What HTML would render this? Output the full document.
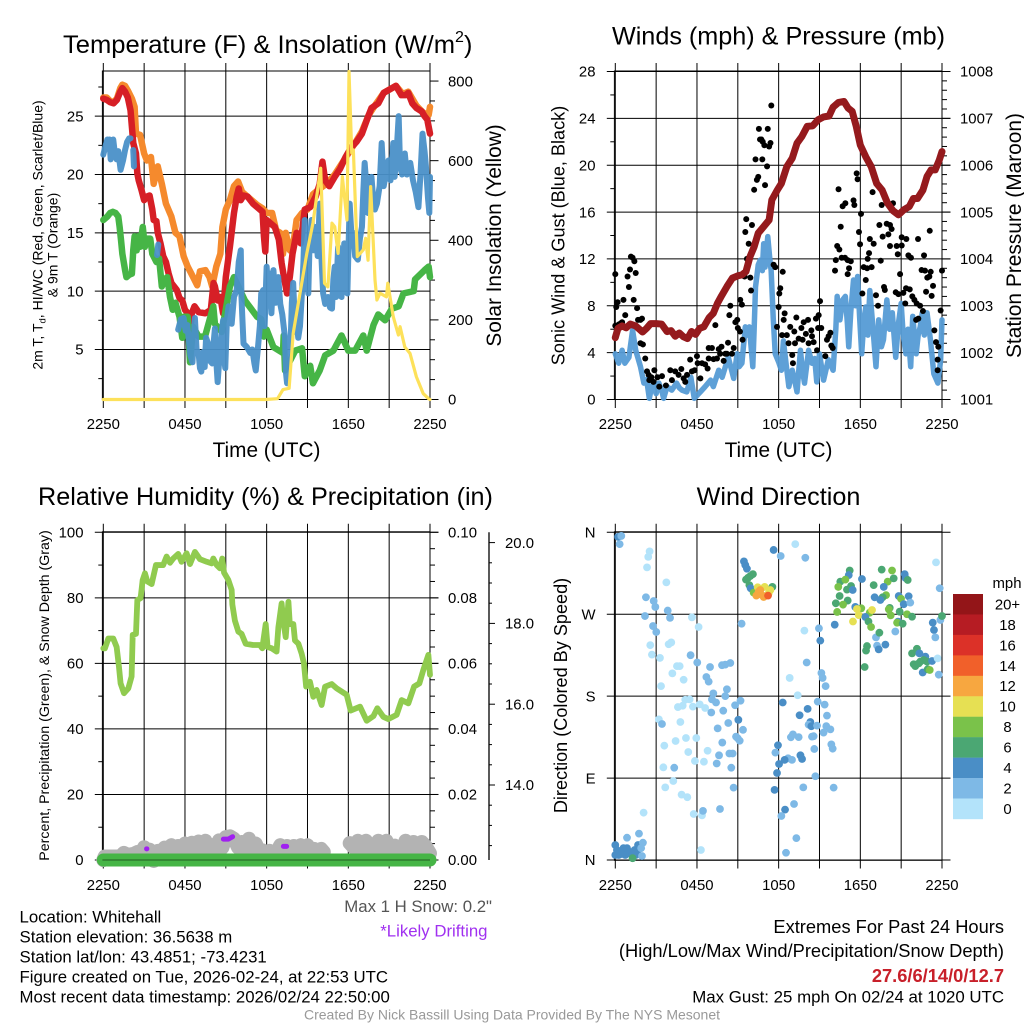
<!DOCTYPE html>
<html lang="en">
<head>
<meta charset="utf-8">
<title>NYS Mesonet Whitehall Meteogram</title>
<style>
html,body{margin:0;padding:0;background:#fff;}
svg{display:block;font-family:"Liberation Sans",sans-serif;}
text{fill:#000;}
</style>
</head>
<body>
<svg id="chart" xmlns="http://www.w3.org/2000/svg" width="1024" height="1024" viewBox="0 0 1024 1024">
<rect x="0" y="0" width="1024" height="1024" fill="#fff"/>
<g id="p1"></g>
<g id="p2"></g>
<g id="p3"></g>
<g id="p4"></g>

<text x="63" y="53" font-size="25.2" textLength="392" lengthAdjust="spacingAndGlyphs">Temperature (F) &amp; Insolation (W/m</text>
<text x="455" y="42" font-size="16">2</text>
<text x="464" y="53" font-size="25.2">)</text>
<text x="778.5" y="44.5" font-size="25.2" text-anchor="middle">Winds (mph) &amp; Pressure (mb)</text>
<text x="265.5" y="505" font-size="25.2" text-anchor="middle">Relative Humidity (%) &amp; Precipitation (in)</text>
<text x="778.5" y="505" font-size="25.2" text-anchor="middle">Wind Direction</text>

<text x="266.5" y="457" font-size="20.8" text-anchor="middle">Time (UTC)</text>
<text x="778.5" y="457" font-size="20.8" text-anchor="middle">Time (UTC)</text>

<text transform="translate(42.5,235) rotate(-90)" font-size="14" text-anchor="middle">2m T, T<tspan font-size="9.5" dy="3">d</tspan><tspan dy="-3">, HI/WC (Red, Green, Scarlet/Blue)</tspan></text>
<text transform="translate(57.5,245) rotate(-90)" font-size="14" text-anchor="middle">&amp; 9m T (Orange)</text>
<text transform="translate(501,235.5) rotate(-90)" font-size="20.8" text-anchor="middle">Solar Insolation (Yellow)</text>
<text transform="translate(564.5,235.5) rotate(-90)" font-size="18.1" text-anchor="middle">Sonic Wind &amp; Gust (Blue, Black)</text>
<text transform="translate(1021,235.5) rotate(-90)" font-size="20.9" text-anchor="middle">Station Pressure (Maroon)</text>
<text transform="translate(49,695.5) rotate(-90)" font-size="14.2" text-anchor="middle">Percent, Precipitation (Green), &amp; Snow Depth (Gray)</text>
<text transform="translate(567,695.5) rotate(-90)" font-size="18.1" text-anchor="middle">Direction (Colored By Speed)</text>

<g id="legend">
<text x="1007" y="588" font-size="14.9" text-anchor="middle">mph</text>
</g>

<g font-size="16.8">
<text x="19.5" y="922.5">Location: Whitehall</text>
<text x="19.5" y="942.5">Station elevation: 36.5638 m</text>
<text x="19.5" y="962.5">Station lat/lon: 43.4851; -73.4231</text>
<text x="19.5" y="982.5">Figure created on Tue, 2026-02-24, at 22:53 UTC</text>
<text x="19.5" y="1002.5">Most recent data timestamp: 2026/02/24 22:50:00</text>
</g>
<text x="492" y="912" font-size="16.8" text-anchor="end" style="fill:#555">Max 1 H Snow: 0.2"</text>
<text x="487.5" y="936.5" font-size="16.8" text-anchor="end" style="fill:#a030f0">*Likely Drifting</text>
<g text-anchor="end">
<text x="1004" y="933" font-size="18.3">Extremes For Past 24 Hours</text>
<text x="1004" y="957" font-size="18.3">(High/Low/Max Wind/Precipitation/Snow Depth)</text>
<text x="1004" y="982" font-size="18.3" font-weight="bold" style="fill:#c8202a">27.6/6/14/0/12.7</text>
<text x="1004" y="1002.5" font-size="16.85">Max Gust: 25 mph On 02/24 at 1020 UTC</text>
</g>
<text x="512" y="1019.5" font-size="14" text-anchor="middle" style="fill:#999">Created By Nick Bassill Using Data Provided By The NYS Mesonet</text>
</svg>

<script>
// ---------- shared axis data ----------
var timeGridHours = [0,3,6,9,12,15,18,21,24];
var timeLabels = ['2250','','0450','','1050','','1650','','2250'];

var tempTicks = [5,10,15,20,25];
var tempMinorTicks = [2.5,7.5,12.5,17.5,22.5,27.5];
var solarTicks = [0,200,400,600,800];
var solarMinorTicks = [50,100,150,250,300,350,450,500,550,650,700,750];
var windTicks = [0,4,8,12,16,20,24,28];
var windMinorTicks = [2,6,10,14,18,22,26];
var pressTicks = [1001,1002,1003,1004,1005,1006,1007,1008];
var pressMinorTicks = [1001.2,1001.4,1001.6,1001.8,1002.2,1002.4,1002.6,1002.8,1003.2,1003.4,1003.6,1003.8,1004.2,1004.4,1004.6,1004.8,1005.2,1005.4,1005.6,1005.8,1006.2,1006.4,1006.6,1006.8,1007.2,1007.4,1007.6,1007.8];
var rhTicks = [0,20,40,60,80,100];
var rhMinorTicks = [10,30,50,70,90];
var precipTicks = [0,0.02,0.04,0.06,0.08,0.10];
var precipMinorTicks = [0.005,0.01,0.015,0.025,0.03,0.035,0.045,0.05,0.055,0.065,0.07,0.075,0.085,0.09,0.095];
var snowTicks = [14,16,18,20];
var snowMinorTicks = [12.5,13,13.5,14.5,15,15.5,16.5,17,17.5,18.5,19,19.5];
var dirTicks = [0,90,180,270,360];
var dirTickLabels = ['N','E','S','W','N'];

// ---------- temperature panel data (hours since 2250 UTC, deg F) ----------
var tempHours = [0,.25,.5,.75,1,1.25,1.4,1.6,1.8,2,2.1,2.2,2.4,2.5,2.6,2.8,3,3.2,3.4,3.6,3.7,3.9,4,4.2,4.4,4.6,4.8,5,5.2,5.4,5.6,5.8,6,6.2,6.4,6.5,6.7,7,7.5,7.9,8.1,8.2,8.4,8.6,8.8,9,9.3,9.6,9.8,9.95,10.1,10.3,10.6,11,11.4,11.7,11.8,11.9,12,12.3,12.6,12.9,13.1,13.3,13.5,13.7,13.9,14.2,14.5,14.8,15.2,15.6,15.9,16.1,16.3,16.6,17,17.4,17.8,18,18.2,18.6,19,19.4,19.7,20.2,20.6,21.2,21.5,21.9,22.2,22.4,22.7,23,23.4,23.6,23.8,24];
var tempValues = [26.5,26.4,26.2,26.1,26.4,27.1,27.4,27.1,26.6,25.5,24.1,22.7,21.8,20.1,19.5,18.7,17.8,18.1,18.2,17,16.1,16,15,14.1,13,12.5,11.5,10.7,10.4,10.1,9.4,9.2,8.4,8.1,6.7,8.1,8.7,8.2,8.1,8.4,10.7,10.4,9.2,9.5,8.1,11.2,13.8,16.7,18.1,18.8,17.8,18.2,18.1,17.5,17.1,16.8,14.7,13.4,16.1,15.8,15.5,14.4,12.4,11,9.8,11.2,13.2,15,14.1,17,17.2,18.1,19.2,21.1,19.5,19,19.8,20.5,21.5,21.9,22.3,22.8,23.5,24.8,25.7,26.1,27,27.4,27.6,26.8,26.8,27,26.1,25.7,25.4,25,24.7,23.5];

var temp9mHours = [0,.25,.5,.75,1,1.25,1.4,1.6,1.8,2.1,2.3,2.4,2.7,3,3.2,3.5,3.7,4,4.3,4.6,5,5.3,5.6,5.9,6.2,6.6,6.9,7.1,7.5,7.8,8,8.3,8.6,8.75,9,9.3,9.6,9.9,10.2,10.7,11.3,11.7,12,12.4,12.7,13,13.2,13.4,13.7,14,14.2,14.6,15,15.4,15.8,16.4,17,18,18.6,19,19.5,20,20.6,21.5,22,22.4,23,23.5,23.9,24];
var temp9mValues = [26.6,26.6,26.3,26.2,26.5,27.4,27.7,27.6,27.2,26.5,25.8,23.5,23.4,21.8,21.2,21.5,19.2,20.7,19.2,17.5,16.4,15,14.7,13,12.1,11.2,10.5,11.7,11.8,11.2,10.4,12.1,13.2,15.5,17,17.8,19,19.4,18.5,18,17.4,17.1,16.7,16.7,15.2,15,13.2,15,13.5,14.4,16.1,16.7,17,18.3,18.7,19.2,20,21.8,22.9,23.7,25.1,26,27,27.6,26.9,27.1,25.9,25.3,25.1,25.8];

var dewHours = [0,.3,.5,.7,.9,1.1,1.2,1.3,1.4,1.6,1.7,1.9,2.1,2.2,2.3,2.45,2.55,2.7,2.9,3.05,3.2,3.45,3.6,3.9,4.1,4.3,4.5,4.7,4.9,5.1,5.3,5.6,5.8,5.9,6.2,6.37,6.6,7,7.47,8.08,8.2,8.7,9.3,9.6,10.4,11.3,11.6,11.8,12,12.5,13.2,13.25,13.35,14.1,14.6,14.8,15.2,15.4,15.9,16.3,16.9,17.5,18,18.5,19.1,19.35,19.85,20.2,20.7,21.2,21.7,22.05,22.8,22.9,23.6,23.9,24];
var dewValues = [16.1,16.4,16.7,16.8,16.7,16.4,15.5,14.4,13.2,11.8,11.2,11.4,11.5,13.5,14.7,13.5,14.7,13.8,15.5,13.8,14.5,14.5,13.2,12.5,12.8,10.4,11,11.2,9.5,8.4,9,7.8,6,7.8,7.8,3.9,6.95,6.1,6.1,8.7,7.2,6.5,10.4,11.2,9.2,7.8,7.6,6.1,6.7,5.2,4.7,6.2,3.2,4.9,5.1,2.7,3.6,2.1,3.2,4.5,4.9,6.2,4.9,4.9,6.2,4.9,7.1,8,7.5,8.5,8.7,9.8,10,11,11.8,12.1,11.2];

var chillHours = [0,.15,.3,.37,.45,.54,.63,.73,.85,.98,1.1,1.27,1.45,1.6,1.75,1.9,2,null,2.2,2.25,null,3.95,4.04,null,
5.5,5.7,5.9,6.05,6.17,6.4,6.55,6.73,6.85,7,7.1,7.2,7.35,7.45,7.55,7.7,7.85,8,8.1,8.2,8.3,8.4,8.5,8.6,8.7,8.8,8.9,8.96,9.08,9.2,9.35,9.43,9.6,9.8,9.95,10.1,10.15,10.2,10.3,10.55,10.8,10.95,11.1,11.2,11.35,11.5,11.6,11.75,11.85,12,12.1,12.25,12.35,12.5,12.65,12.85,13,13.15,13.35,13.42,13.5,13.62,13.75,13.85,13.95,14.1,14.2,14.32,14.45,14.6,14.7,14.8,14.92,15.06,15.15,15.3,15.42,15.6,15.75,15.9,16.02,16.15,16.3,16.5,16.65,16.8,16.9,17,17.1,17.25,17.38,17.5,17.6,17.7,17.82,17.93,18.02,18.1,18.22,18.37,18.5,18.7,18.85,19,19.1,19.2,19.33,19.45,19.58,19.7,19.82,19.95,20.1,20.3,20.45,20.52,20.6,20.75,20.95,21.1,21.3,21.4,21.55,21.7,21.8,21.95,22.15,22.3,22.55,22.75,22.95,23.15,23.3,23.45,23.6,23.7,23.85,23.95,24];
var chillValues = [21.7,22.4,23,22.5,23,21.3,22.8,23,21.8,21.3,22,20.4,21.2,22.1,22.8,23.1,23.1,null,22.1,20.7,null,13.1,14,null,
6.7,7.6,7.7,6.6,7.1,4.5,3.9,7.7,5,4.7,3.4,3.1,4.8,3.5,6,5.5,4,3.8,5.5,6.8,4,2.2,3.8,4.9,6.5,7.5,4,3.4,7.5,8.7,8,7.2,9.5,10.1,12.5,13.5,9.5,8.1,5.5,5.2,4.7,5,3.8,3.2,5,7,9.8,10.1,7,12.1,10,11.5,8.1,11.8,9,11.2,8.9,8,6,3,2.1,4,5.2,9,10.7,6.5,7.5,6,7,10,12.4,16.1,12,9.8,14,16.1,13.5,15.5,13,17.5,13,9.8,8.9,9.5,8.6,8.5,11,12.1,9.5,13.8,11,9.5,12,14.1,11,9.8,14,17.5,15,15,13,12.7,14.5,15.5,18.5,21,19,16.7,18,19.8,18,17,17.5,19,22.7,21,19,20,21.2,19.5,22.7,19.8,22,25,20.7,20,21.8,20,21,19.5,18.5,17.2,20,23.5,22,20.7,18,16.7,19.8];

var solarHours = [0,11.9,12.8,13.2,13.65,13.95,14.45,14.95,15.4,15.97,16.1,16.25,16.5,16.8,17,17.25,17.56,17.9,18.05,18.25,18.37,18.66,19.1,19.27,19.45,19.64,19.96,20.1,20.33,20.8,20.9,21.3,21.68,21.8,22.15,22.53,23,23.5,23.9,24];
var solarValues = [0,0,2,25,28,166,267,367,443,581,451,292,283,443,434,367,560,451,824,619,627,359,376,405,350,535,300,250,267,258,292,208,162,183,132,116,57,15,2,0];

// ---------- wind panel data (hours since 2250 UTC, mph, mb) ----------
var windHours = [0,.25,.5,.7,1,1.27,1.5,1.85,2.1,2.3,2.5,2.65,2.8,3,3.2,3.4,3.55,3.8,4.15,4.5,4.7,4.9,5.25,5.55,5.8,6.25,6.6,7,7.2,7.6,7.85,8.3,8.7,8.95,9.1,9.3,9.55,9.7,9.85,10.1,10.2,10.3,10.5,10.65,10.8,10.9,11,11.2,11.35,11.45,11.6,11.75,12,12.2,12.35,12.55,12.75,13,13.2,13.35,13.6,13.75,13.9,14.2,14.45,14.65,14.8,15,15.3,15.65,16,16.2,16.3,16.4,16.5,16.7,16.9,17.05,17.15,17.3,17.5,17.65,17.8,17.95,18.1,18.25,18.4,18.55,18.7,18.9,19.15,19.35,19.55,19.7,19.95,20.15,20.35,20.6,20.8,21,21.15,21.35,21.5,21.7,21.85,22.1,22.25,22.4,22.55,22.7,22.9,23.15,23.4,23.7,23.9,24];
var windValues = [3.9,3.1,4.2,3.1,3.6,5.9,4.2,2.8,1.4,1.7,.1,1,1.4,.5,1.4,.8,.1,1.1,.8,1.4,1,.8,.65,1.9,.1,.65,1.1,1.65,1.1,2.5,1.9,3.6,1.8,3.9,2.8,3.1,6.2,5.5,6.2,2.8,6,9.6,11.5,11.9,11,13.3,11.3,13.9,12,11,7,3.9,3.2,2.5,5,3,1.1,2.5,1.5,.65,4.2,2.5,1.4,4.2,3.1,3.5,1.5,3.9,1.65,3.4,2.5,6,8.8,7.2,6.8,8.5,8.8,6.5,4.5,7.5,10.2,8,10.5,7,3.9,6.5,7.9,5.5,9.3,6.5,2.8,6.8,4.5,5.1,8.5,6,7.4,3.6,6.5,8.2,5.5,3.9,6,2.8,7.1,3.9,5.5,6.2,7.4,5.5,7.4,5.1,2.2,1.4,3.4,6.8];

var gustHours = [0,.07,.17,0,.25,.5,.6,.73,.4,.9,1,1.08,1.15,1.27,1.4,1.5,1.35,1.6,1.67,1.85,1.96,1.85,2.03,2.2,2.33,2.45,2.5,2.65,2.87,2.8,3.1,3.23,3.43,3.72,4.04,4.16,4.4,4.65,4.85,5.02,5.27,5.14,5.5,5.63,5.83,6,6.05,6.25,6.37,6.6,6.78,6.86,7.1,6.86,7.22,7.35,7.47,7.6,7.7,7.8,7.96,8.08,8.2,8.28,8.38,8.45,8.57,8.7,8.82,8.96,9,9.16,9.18,9.3,9.35,9.5,9.55,9.62,9.67,9.8,9.92,9.97,10.04,10.2,10.3,10.4,10.5,10.55,10.63,10.73,10.83,10.95,10.8,11,11.15,11.2,11.3,11.4,11.46,11.5,11.63,11.75,12,12.05,12.12,12.3,11.88,12.25,12.44,12.37,12.6,12.73,12.85,13,13.05,13.15,13.2,13.3,13.47,13.67,13.76,13.84,14,14.16,14.2,14.4,14.45,14.57,14.74,14.82,14.94,15.04,14.9,15.13,15.43,15.55,15.67,15.8,15.87,15.97,16.14,16.2,16.3,16.46,16.4,16.56,16.7,16.9,16.63,16.87,17.07,17.3,17.17,17.07,17.5,17.56,17.73,17.8,18.05,17.9,17.98,18.25,18.5,18.83,18.64,18.54,18.4,18.15,18.9,18.7,18.98,19.5,19.15,19.3,19.74,19.8,19.57,19.4,19.64,19.94,20.06,20.18,20.3,20.18,20.4,20.75,20.67,21.04,21.04,21.38,21.53,21.72,20.92,20.6,20.8,21.16,21.36,21.63,21.3,21.82,21.97,22.14,22.39,22.6,22.1,22.26,22.24,22.68,22.5,22.75,23.17,22.92,23.07,23.1,23.34,22.83,23.24,23.9,23.44,23.56,23.73,24,23.68,23.68];
var gustValues = [10.7,7.9,8.3,6.3,6.4,6.6,8.5,7.2,6.5,10.5,9.6,11.1,12.2,12.1,11.8,10.8,8.5,7.8,6.8,6.8,6.9,4.8,4.7,3.5,2.4,2.1,1.65,1.9,2.5,1.5,1.9,1.1,2,1.2,2.5,1.65,2.4,2.1,2.6,1.8,2.1,1.5,3.4,2.4,2.5,3.7,3.1,1.8,3.1,3,2.65,4.4,4.4,3.5,3.45,6.35,3.5,4.3,3.9,4.5,3.3,3.9,3.9,4.85,7.2,8,3.9,4.4,6.6,6.8,6.1,5.8,8.5,8.1,5.1,10.5,14.3,15.4,12,13.3,10.4,9.3,14.9,17.9,20.5,18.75,19,23.1,22.2,22.2,22,21.7,20.5,18.3,19.9,23.1,21.6,21.9,25.1,16.8,11.5,11.3,7.9,9.05,9.5,10.9,6.2,5.5,7.35,6.8,5.5,4.8,6.2,3.8,3.1,5.8,4.8,7,5.2,6.1,5.1,6.6,5.6,6.8,4.8,5.9,5.4,4.9,6.9,4.2,7.2,8.4,6.1,6.1,3.7,5.1,5.4,5.7,4.6,4.4,11,11.9,13.1,12.8,17.95,14.75,16.5,16.75,12.1,12.1,11.9,11.8,11.2,10.7,17,16.6,19.3,18.8,15.85,14.3,13.25,11.3,11.2,11.3,12.5,12,10.2,9.05,17.7,13.7,13.3,11.85,8.9,8,9.6,9.35,16.6,14.9,13.9,15,14.1,13.1,14.55,14.9,16.75,12.4,13.1,13.15,13.85,13.7,12.3,12.1,10.7,9.15,9,9.1,9.5,9.4,8.2,8.8,8.5,8.2,8,7.55,6.8,6.9,13.7,12.3,11.05,11,10.9,10.4,10.5,14.4,9.7,9.2,8.85,7.6,5.9,4.9,4.5,11,3.4,2.5];

var pressHours = [0,.2,.5,.8,1.1,1.5,2,2.3,2.6,3,3.4,3.8,4.1,4.4,4.7,5,5.3,5.6,5.9,6.2,6.5,6.9,7.2,7.5,7.8,8.2,8.6,9,9.3,9.6,9.9,10.2,10.5,10.9,11.3,11.5,11.9,12.2,12.6,13,13.35,13.7,14.1,14.5,14.9,15.3,15.7,16,16.4,16.8,17.1,17.4,17.7,18,18.4,18.8,19.2,19.6,20,20.4,20.8,21.2,21.6,21.9,22.2,22.6,22.9,23.2,23.5,23.8,24];
var pressValues = [1002.32,1002.52,1002.57,1002.53,1002.61,1002.57,1002.44,1002.52,1002.62,1002.62,1002.61,1002.45,1002.47,1002.35,1002.42,1002.34,1002.3,1002.45,1002.39,1002.52,1002.55,1002.75,1002.84,1003.05,1003.21,1003.41,1003.59,1003.64,1003.66,1003.73,1004.05,1004.26,1004.55,1004.69,1004.83,1005.26,1005.47,1005.61,1005.97,1006.15,1006.47,1006.61,1006.83,1006.84,1006.97,1007.03,1007.05,1007.24,1007.34,1007.36,1007.22,1007.15,1006.83,1006.43,1006.18,1005.97,1005.61,1005.47,1005.19,1005.03,1004.94,1005.05,1005.12,1005.29,1005.29,1005.47,1005.76,1005.9,1005.9,1006.11,1006.29];

// ---------- humidity panel data (hours since 2250 UTC, %, in) ----------
var rhHours = [0,.12,.37,.73,.98,1.15,1.27,1.52,1.84,2.08,2.16,2.4,2.5,2.74,2.89,3.06,3.23,3.55,3.87,4.4,4.65,4.9,5.14,5.5,5.75,6.12,6.37,6.73,7.1,7.6,7.96,8.08,8.33,8.57,8.74,8.87,9.18,9.43,9.48,9.67,9.92,10.16,10.46,11,11.5,11.68,11.93,12.07,12.37,12.73,12.86,13.1,13.22,13.4,13.6,13.7,13.96,14.08,14.33,14.57,14.74,14.9,15.18,15.43,15.67,16.04,16.29,16.78,17.14,17.88,18.17,18.86,19.35,19.84,20.13,20.57,20.94,21.55,21.92,22.41,22.83,23.22,23.51,23.88,24];
var rhValues = [64.6,64.6,67.6,67.6,65,59,53.9,50.9,52.4,56,68.7,69,79.3,79.9,85.4,87.5,85,84.2,90,90,92.6,90.7,92,93.4,91,93.6,90.3,94,91.8,91,90.5,92,90,89,92,87.7,85.5,82.4,78,73,69.7,69,66,65.6,65.6,64.6,72,65,64.6,63.6,71,78.3,73,68,78.8,72,72,67,66,63,60,52.9,54.4,49.8,51.9,47.3,52.9,53.7,52.4,50.4,45.6,46.8,42.5,43.9,46.3,43.7,43,44.3,48.8,47.8,52.9,53.9,58,62.6,56.5];

var snowHours = [0,.1,.5,1,1.25,1.5,1.75,2,2.25,2.5,2.75,3,3.2,3.4,3.7,4,4.25,4.5,4.75,5,5.25,5.5,5.75,6,6.25,6.5,6.75,7,7.25,7.5,7.75,8,8.25,8.5,8.75,9,9.3,9.6,9.9,10.2,10.5,10.7,10.95,11.2,11.45,11.7,11.95,12.2,12.6,13,13.25,13.5,13.75,14,14.25,14.5,14.75,15,15.25,15.5,15.75,16,16.2,null,18.1,18.4,18.7,19,19.3,19.55,19.8,20,20.2,20.5,20.8,21.1,21.4,21.6,21.8,22,22.2,22.5,22.8,23.1,23.4,23.7,24];
var snowValues = [12.14,12.23,12.23,12.23,12.23,12.32,12.28,12.28,12.3,12.34,12.32,12.46,12.38,12.4,12.12,12.37,12.36,12.45,12.36,12.51,12.36,12.49,12.36,12.55,12.38,12.57,12.38,12.6,12.38,12.62,12.36,12.51,12.4,12.63,12.45,12.71,12.73,12.67,12.45,12.59,12.38,12.67,12.4,12.55,12.36,12.38,12.33,12.37,12.26,12.51,12.36,12.49,12.36,12.49,12.36,12.51,12.36,12.51,12.36,12.42,12.36,12.42,12.34,null,12.56,12.45,12.62,12.39,12.62,12.42,12.47,12.4,12.62,12.42,12.62,12.42,12.5,12.38,12.47,12.4,12.62,12.42,12.59,12.4,12.59,12.48,12.31];

var driftHours = [3.18,3.2,null,8.82,9.19,9.5,null,13.23,13.47];
var driftValues = [12.42,12.42,null,12.66,12.66,12.72,null,12.48,12.48];

var precipHours = [0,24];
var precipValues = [0,0];

// ---------- wind direction panel data (hours since 2250 UTC, degrees, mph) ----------
var dirHours = [.2,.44,.32,0,0,.12,.25,.6,.86,.86,.98,.73,1.1,1.22,.44,1.5,1.42,1.6,1.67,1.74,2.03,1.9,1.96,1.27,2.08,
2.52,2.42,2.33,3.75,2.25,2.82,2.94,3.85,2.18,4.02,5.63,2.77,3.01,6.12,2.57,3.92,4.11,2.69,3.28,5.53,6.02,6.96,7.84,8.08,8.45,4.53,4.73,4.19,5.02,3.36,6.69,6.86,8.2,7.2,8.08,7.1,7.4,5.14,5.46,4.6,4.95,5.7,6.2,6.6,7.05,7.93,8.8,9.2,9.04,3.2,3.43,4.78,8.3,7.52,9.38,8.87,8.99,9.14,4.43,5.19,5.95,3.6,7.86,6.78,5.36,7.62,8.38,8.62,5.85,6.51,7.45,3.53,4.33,8.52,4.26,3.67,8.69,4.87,5.29,5.76,6.37,6.44,7.69,6.29,
9.45,9.55,9.67,10.11,9.92,9.75,9.6,9.85,9.94,10.16,10.46,10.97,11.54,11.39,10.65,10.53,10.36,10.78,10.9,11.27,11.22,
11.63,12.15,13.22,13.96,9.28,13.89,14.96,15.06,16.12,14.06,15.14,15.23,15.45,12.81,13.4,12.3,14.87,15.38,14.13,13.54,15.55,14.33,14.2,14.4,14.82,15.5,15.8,15.3,14.57,14.45,13.05,12.9,13.47,15.87,15.97,14.62,11.95,11.76,13.6,13.72,12.69,12.98,12.44,12.03,11.88,14.7,11.7,13.81,16.04,13.13,12.47,12.2,13.3,12.54,
17.22,17.15,16.53,16.9,16.38,17.02,17.32,17.44,16.48,17.07,16.73,16.2,16.3,18.12,17.63,18.07,17.75,17.46,17.88,18.69,18.86,18.37,18.6,18.79,19.15,19.4,18.98,19.57,20.33,20.01,19.72,20.45,21.26,21.31,21.48,19.89,19.64,19.47,19.05,20.82,20.99,21.55,21.19,21.67,20.16,20.09,20.89,21.43,20.23,21.8,20.77,20.7,21.11,20.57,23.32,23.41,23.51,23.88,24,23.83,23.56,19.84,19.23,19.35,18.49,18.42,18.32,21.8,22.16,22.34,22.78,22.41,22.66,22.9,23.27,23.68,21.92,22.04,22.29,22.58,22.95,23.1,23.76];
var dirDegrees = [355,356,347,16.5,5.5,11,5.5,13,24.5,13,9,5.5,7,5.5,6.6,5.5,11,9,16.5,29,19,13,4.4,2,52,
339,333,321.5,305,288.6,284.5,278,274,268,266,266.6,257,250.5,256,236,237,239,225.6,222,225,217,212,214,214.6,216.4,213,213,205,198,191,201,196,187.5,183,180,176.5,173,176,176.5,168,169.5,168.5,171,167,162,164,170,175,154,154.5,149.4,151.6,150.5,144.6,143,135.5,133.7,131,130.7,134,134,125.6,129,120,118.6,115,117,117,108.8,108,106,101.8,101.4,101.4,86.8,79.8,79.5,71.8,69,50.5,49,54,56,11,
328,324,320,314,312,310,308,302,298.5,293.7,299.6,300,300,296.6,296.6,294.8,290.4,291,289,293,290.4,
340.6,334,347,332,259.6,252,254.5,241,258.5,217,205.4,200,191,200,181,173,174,170.7,166,159,158.6,151.6,148.7,147,147.6,147,143.5,140,136,135.5,138,134.8,135,127,122.3,122,126,118,115,111,111.7,110,110,105.5,95.6,92,77,79.8,79.5,61.5,55.3,48.3,24,8,
318,313,305.8,308,300,297,301,296.6,290,285,280.5,282,272.5,308.7,278,276.5,275.7,262,269,271.7,274.6,267,262,256,244.6,249.7,302,319,318,305.8,300,309.4,314,310,307.6,291,288.6,285.6,288.6,290,287,289.7,281,282.7,277,275.4,272.8,270,268.8,267.3,261.8,260.7,259.6,251,260.7,252.7,244.6,263.7,268,298.5,327,236.6,235.5,231.4,235,230,212,227,232,227,223.4,218,219.7,218,218.6,221.5,215,213,216,206,209.5,208.7,203.6];
var dirSpeeds = [4,3,3,4,4,4,4,4,3,4,4,4,4,4,4,4,4,4,4,3,3,3,3,6,1,
1,1,1,1,3,3,2,2,3,3,1,2,2,1,1,1,1,1,1,3,3,2,2,2,3,1,1,1,1,1,2,2,2,2,2,2,2,1,1,1,1,1,1,1,2,2,2,2,4,1,3,1,2,2,2,3,3,3,1,1,1,1,2,1,1,2,3,2,1,1,2,1,2,2,1,1,2,1,1,1,1,2,2,1,
4,4,4,6,6,6,6,6,4,8,10,10,6,10,12,12,12,12,12,10,14,
4,3,1,2,3,1,2,4,4,2,3,2,2,1,1,4,2,2,4,4,2,4,3,4,2,2,2,2,2,2,2,2,2,2,2,2,4,2,4,4,2,2,4,4,4,2,4,2,2,2,4,2,2,2,
6,4,6,8,8,6,6,4,6,6,8,6,8,4,4,8,10,10,10,8,10,4,6,8,2,6,6,6,8,8,4,6,4,4,6,8,6,4,4,4,8,4,4,2,6,8,6,8,8,6,4,8,6,2,4,4,2,2,6,2,1,4,2,4,6,6,6,6,6,4,4,6,6,6,4,1,6,6,6,4,6,8,2];

var legendLabels = ['20+','18','16','14','12','10','8','6','4','2','0'];
var legendColors = ['#931518','#b61c23','#dc3128','#f1602a','#f7a740','#e6e053','#7ac24a','#4ba773','#4a8ec6','#7eb9e6','#b3e3fa'];

// ---------- drawing ----------
var NS = 'http://www.w3.org/2000/svg';
var panelW = 326.7, panelH = 328;
var TICK_LONG = 8.5, TICK_SHORT = 5;

function makeLine(parent, x1, y1, x2, y2, width, name) {
  var el = document.createElementNS(NS, 'line');
  el.setAttribute('x1', x1); el.setAttribute('y1', y1);
  el.setAttribute('x2', x2); el.setAttribute('y2', y2);
  el.setAttribute('stroke', '#000');
  el.setAttribute('stroke-width', width);
  
  
  parent.appendChild(el);
}
function makeText(parent, x, y, str, anchor, name) {
  var el = document.createElementNS(NS, 'text');
  el.setAttribute('x', x); el.setAttribute('y', y);
  el.setAttribute('font-size', '14.9');
  el.setAttribute('text-anchor', anchor);
  el.textContent = str;
  
  
  parent.appendChild(el);
}
function linear(d0, d1, r0, r1) {
  return function (v) { return r0 + (v - d0) * (r1 - r0) / (d1 - d0); };
}
function drawSeries(parent, xs, ys, xScale, yScale, color, width, name, opacity) {
  var d = '', pen = false, n = Math.min(xs.length, ys.length);
  for (var i = 0; i < n; i++) {
    if (xs[i] === null || ys[i] === null) { pen = false; continue; }
    d += (pen ? 'L' : 'M') + xScale(xs[i]).toFixed(2) + ' ' + yScale(ys[i]).toFixed(2);
    pen = true;
  }
  var el = document.createElementNS(NS, 'path');
  el.setAttribute('d', d);
  el.setAttribute('fill', 'none');
  el.setAttribute('stroke', color);
  el.setAttribute('stroke-width', width);
  el.setAttribute('stroke-linejoin', 'round');
  el.setAttribute('stroke-linecap', 'round');
  if (opacity) el.setAttribute('stroke-opacity', opacity);
  
  
  parent.appendChild(el);
}
function drawDots(parent, xs, ys, xScale, yScale, radius, colorFn, name) {
  var n = Math.min(xs.length, ys.length);
  for (var i = 0; i < n; i++) {
    var c = document.createElementNS(NS, 'circle');
    c.setAttribute('cx', xScale(xs[i]).toFixed(2));
    c.setAttribute('cy', yScale(ys[i]).toFixed(2));
    c.setAttribute('r', radius);
    c.setAttribute('fill', colorFn(i));
    
    
    parent.appendChild(c);
  }
}
function drawTimeGrid(parent, left, top, bottom, labelY, xScale) {
  timeGridHours.forEach(function (h, i) {
    makeLine(parent, xScale(h), top - TICK_LONG, xScale(h), bottom + TICK_LONG, 1, 'time-gridline');
    if (timeLabels[i]) makeText(parent, xScale(h), labelY, timeLabels[i], 'middle', 'time-tick-label');
  });
  var frame = document.createElementNS(NS, 'rect');
  frame.setAttribute('x', left - 0.9);
  frame.setAttribute('y', top - 0.5);
  frame.setAttribute('width', panelW + 0.9);
  frame.setAttribute('height', panelH + 0.5);
  frame.setAttribute('fill', 'none');
  frame.setAttribute('stroke', '#000');
  frame.setAttribute('stroke-width', 1);
  
  
  parent.appendChild(frame);
}
function drawYAxisLeft(parent, left, right, ticks, minors, yScale, fmt, gridRight) {
  ticks.forEach(function (v) {
    makeLine(parent, left - TICK_LONG, yScale(v), gridRight, yScale(v), 1, 'y-gridline');
    makeText(parent, left - 19.8, yScale(v) + 5.2, fmt(v), 'end', 'y-tick-label');
  });
  minors.forEach(function (v) {
    makeLine(parent, left - TICK_SHORT, yScale(v), left, yScale(v), 1, 'y-minor-tick');
  });
}
function drawYAxisRight(parent, right, ticks, minors, yScale, fmt) {
  ticks.forEach(function (v) {
    makeLine(parent, right, yScale(v), right + TICK_LONG, yScale(v), 1, 'right-axis-tick');
    makeText(parent, right + 18, yScale(v) + 5.2, fmt(v), 'start', 'right-axis-tick-label');
  });
  minors.forEach(function (v) {
    makeLine(parent, right, yScale(v), right + TICK_SHORT, yScale(v), 1, 'right-axis-minor-tick');
  });
}

// ----- panel 1 -----
(function () {
  var g = document.getElementById('p1');
  var L = 103.3, T = 71.5, R = L + panelW, B = T + panelH;
  var x = linear(0, 24, L, R);
  var yT = linear(0.71, 28.83, B, T);
  var yS = linear(0, 824, B, T);
  drawTimeGrid(g, L, T, B, 429, x);
  drawYAxisLeft(g, L, R, tempTicks, tempMinorTicks, yT, String, R);
  drawYAxisRight(g, R, solarTicks, solarMinorTicks, yS, String);
  drawSeries(g, temp9mHours, temp9mValues, x, yT, '#f58a2d', 6.5, 'temperature-9m-line');
  drawSeries(g, tempHours, tempValues, x, yT, '#d61f26', 6.5, 'temperature-2m-line');
  drawSeries(g, dewHours, dewValues, x, yT, '#46b546', 6.5, 'dewpoint-line');
  drawSeries(g, chillHours, chillValues, x, yT, '#4a90c8', 6, 'wind-chill-line', 0.95);
  drawSeries(g, solarHours, solarValues, x, yS, '#fde15a', 3.2, 'solar-insolation-line');
})();

// ----- panel 2 -----
(function () {
  var g = document.getElementById('p2');
  var L = 615.3, T = 71.5, R = L + panelW, B = T + panelH;
  var x = linear(0, 24, L, R);
  var yW = linear(0, 28, B, T);
  var yP = linear(1001, 1008, B, T);
  drawTimeGrid(g, L, T, B, 429, x);
  drawYAxisLeft(g, L, R, windTicks, windMinorTicks, yW, String, R + TICK_LONG);
  drawYAxisRight(g, R, pressTicks, pressMinorTicks, yP, String);
  drawSeries(g, windHours, windValues, x, yW, '#559bd5', 5.5, 'sonic-wind-line', 0.95);
  drawDots(g, gustHours, gustValues, x, yW, 3, function () { return '#000'; }, 'gust-point');
  drawSeries(g, pressHours, pressValues, x, yP, '#951a1d', 7, 'station-pressure-line');
})();

// ----- panel 3 -----
(function () {
  var g = document.getElementById('p3');
  var L = 103.3, T = 532.3, R = L + panelW, B = T + panelH - 0.3;
  var x = linear(0, 24, L, R);
  var yH = linear(0, 100, B, T);
  var yPr = linear(0, 0.1, B, T);
  var ySn = linear(14, 20, 785, 542.6);
  drawTimeGrid(g, L, T, B, 890, x);
  drawYAxisLeft(g, L, R, rhTicks, rhMinorTicks, yH, String, R + TICK_LONG);
  drawYAxisRight(g, R, precipTicks, precipMinorTicks, yPr, function (v) { return v.toFixed(2); });
  drawSeries(g, snowHours, snowValues, x, ySn, '#b3b3b3', 14, 'snow-depth-line');
  drawSeries(g, precipHours, precipValues, x, yPr, '#46b546', 13, 'precipitation-line');
  makeLine(g, L - 0.9, B, R, B, 0.6, 'precipitation-baseline');
  drawSeries(g, driftHours, driftValues, x, ySn, '#a020f0', 5, 'likely-drifting-marks');
  drawSeries(g, rhHours, rhValues, x, yH, '#90cb4f', 5.8, 'relative-humidity-line');
  var sx = 489;
  makeLine(g, sx, T, sx, B, 1.3, 'snow-axis-line');
  snowTicks.forEach(function (v) {
    makeLine(g, sx, ySn(v), sx + 6, ySn(v), 1, 'snow-axis-tick');
    makeText(g, sx + 16, ySn(v) + 5.2, v.toFixed(1), 'start', 'snow-axis-tick-label');
  });
  snowMinorTicks.forEach(function (v) {
    makeLine(g, sx, ySn(v), sx + 3, ySn(v), 1, 'snow-axis-minor-tick');
  });
})();

// ----- panel 4 -----
(function () {
  var g = document.getElementById('p4');
  var L = 615.3, T = 532.3, R = L + panelW, B = T + panelH - 0.3;
  var x = linear(0, 24, L, R);
  var y = linear(0, 360, B, T);
  drawTimeGrid(g, L, T, B, 890, x);
  dirTicks.forEach(function (v, i) {
    makeLine(g, L - TICK_LONG, y(v), R + TICK_LONG, y(v), 1, 'direction-gridline');
    makeText(g, L - 19.8, y(v) + 5.2, dirTickLabels[i], 'end', 'direction-tick-label');
  });
  drawDots(g, dirHours, dirDegrees, x, y, 3.9, function (i) {
    var bin = Math.min(Math.floor(dirSpeeds[i] / 2), 10);
    return legendColors[10 - bin];
  }, 'wind-direction-point');
  var lg = document.getElementById('legend');
  var bh = 225 / legendColors.length;
  legendColors.forEach(function (col, i) {
    var r = document.createElementNS(NS, 'rect');
    r.setAttribute('x', 953);
    r.setAttribute('y', 594 + i * bh);
    r.setAttribute('width', 30);
    r.setAttribute('height', bh + 0.2);
    r.setAttribute('fill', col);
    
    
    lg.appendChild(r);
    makeText(lg, 1007.5, 594 + (i + 0.5) * bh + 5.2, legendLabels[i], 'middle', 'legend-label');
  });
})();
</script>
</body>
</html>
